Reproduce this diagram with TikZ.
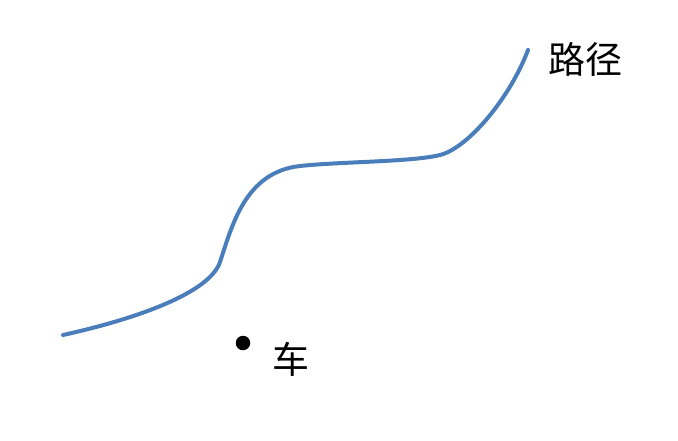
\documentclass[tikz,border=0pt]{standalone}
\usepackage{fontspec}
\newfontfamily\cjk{Noto Sans CJK SC}
\definecolor{pathblue}{RGB}{74,126,187}
\begin{document}
\begin{tikzpicture}[x=1pt,y=-1pt,
  lbl/.style={font=\cjk\fontsize{37}{42}\selectfont, inner sep=0pt},
  pathline/.style={draw=pathblue, line width=4pt, line cap=round},
  cardot/.style={circle, fill=black, minimum size=14.5pt, inner sep=0pt}]
\useasboundingbox (0,0) rectangle (678,440);
\fill[white] (0,0) rectangle (678,440);
\coordinate (p0) at (63,335);
\coordinate (p1) at (220,262);
\coordinate (p2) at (300,166);
\coordinate (p3) at (440,155);
\coordinate (p4) at (528,50);
\draw[pathline] (p0) .. controls (140,318) and (210,292) .. (p1)
  .. controls (232,226) and (245,172) .. (p2)
  .. controls (340,161.6) and (412,162) .. (p3)
  .. controls (468,148) and (510,98) .. (p4);
\node[cardot] (car) at (243,343) {};
\node[lbl] (carlabel) at (291,359) {车};
\node[lbl] (pathlabel) at (585,59) {路径};
\end{tikzpicture}
\end{document}
